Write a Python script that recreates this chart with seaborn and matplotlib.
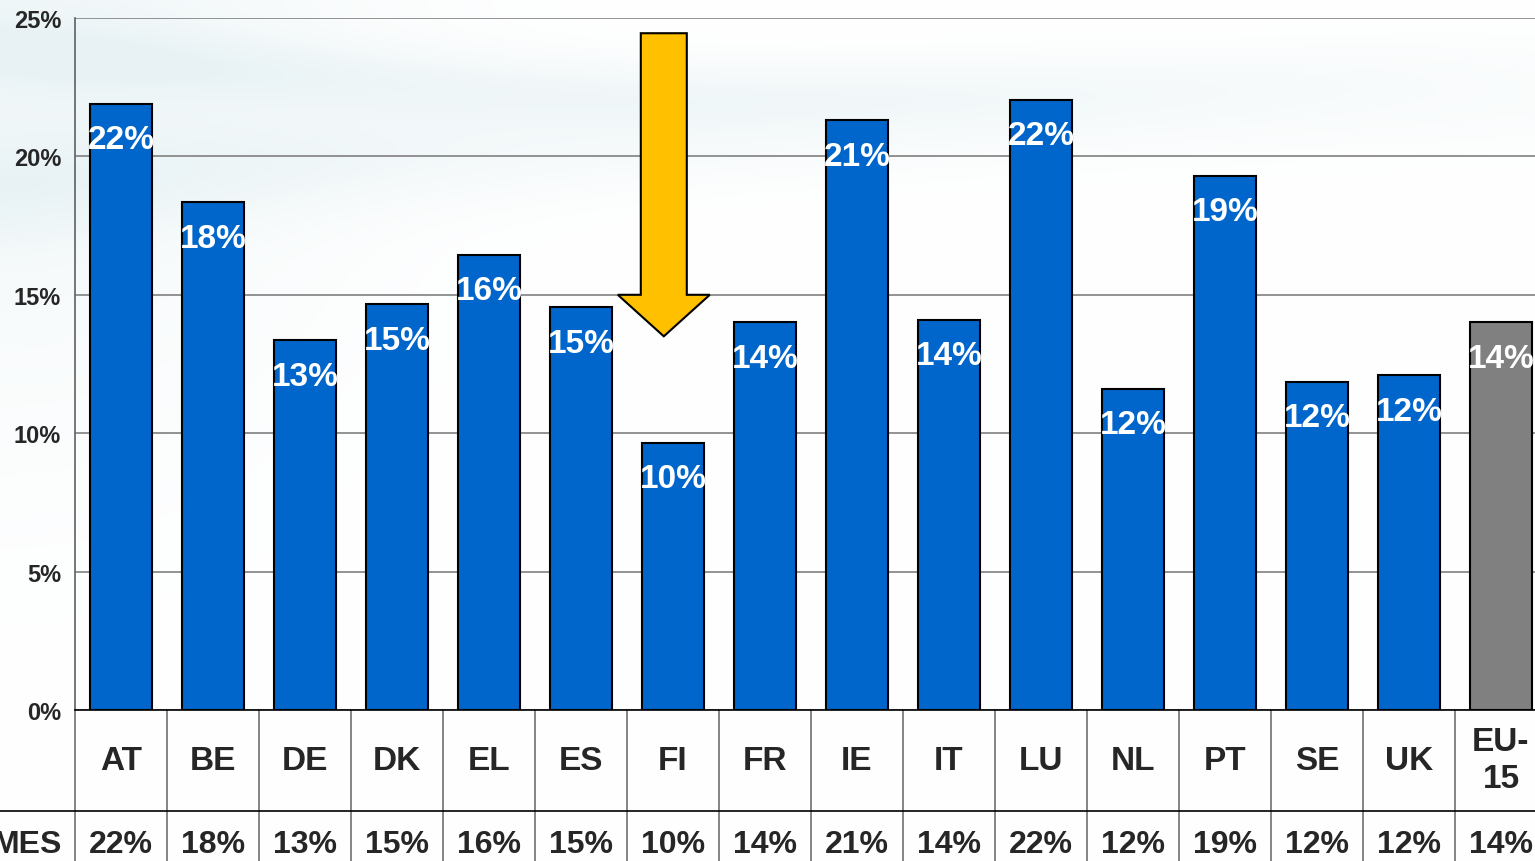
import numpy as np
import matplotlib.pyplot as plt
import matplotlib.transforms as mtransforms
from matplotlib.patches import Polygon
import seaborn as sns
import pandas as pd

countries = ["AT", "BE", "DE", "DK", "EL", "ES", "FI", "FR", "IE", "IT",
             "LU", "NL", "PT", "SE", "UK", "EU-\n15"]
values = [21.9, 18.35, 13.35, 14.65, 16.45, 14.55, 9.65, 14.0, 21.3, 14.1,
          22.05, 11.6, 19.3, 11.85, 12.1, 14.0]
labels = ["22%", "18%", "13%", "15%", "16%", "15%", "10%", "14%", "21%", "14%",
          "22%", "12%", "19%", "12%", "12%", "14%"]
row_label = "MES"
bar_colors = ["#0066CC"] * 15 + ["#808080"]

sns.set_style("white")
plt.rcParams['font.family'] = ['Liberation Sans', 'DejaVu Sans']

W, H = 1535, 862
fig = plt.figure(figsize=(W / 100, H / 100), dpi=100)

# soft background swooshes
bg = fig.add_axes([0, 0, 1, 1], zorder=-10)
yy, xx = np.mgrid[0:1:H * 1j, 0:1:W * 1j]
img = np.ones((H, W, 3))
band1 = np.exp(-((yy - (0.22 - 0.18 * xx + 0.08 * xx ** 2)) / 0.06) ** 2) * (1 - 0.6 * xx)
band2 = np.exp(-((yy - (0.06 + 0.05 * np.sin(3 * xx))) / 0.04) ** 2) * np.clip(1.1 - xx, 0, 1)
corner = np.exp(-(xx ** 2 / 0.05 + yy ** 2 / 0.2))
tint = np.clip(0.5 * band1 + 0.6 * band2 + 0.6 * corner, 0, 1)
img[..., 0] -= 0.09 * tint
img[..., 1] -= 0.05 * tint
img[..., 2] -= 0.04 * tint
bg.imshow(img, aspect="auto", extent=[0, 1, 0, 1])
bg.axis("off")

ax = fig.add_axes([75 / W, 151 / H, (1547 - 75) / W, (711 - 19) / H])
ax.patch.set_alpha(0)

df = pd.DataFrame({"country": countries, "value": values})
sns.barplot(data=df, x="country", y="value", hue="country", palette=bar_colors,
            legend=False, width=0.675, edgecolor="black", linewidth=1.5,
            saturation=1, ax=ax, zorder=3)

ax.set_xlim(-0.5, 15.5)
ax.set_ylim(0, 25)
ax.set_yticks(np.arange(0, 26, 5))
ax.set_yticklabels([f"{t}%" for t in range(0, 26, 5)], fontsize=17, fontweight="bold")
ax.tick_params(axis="y", direction="out", length=8, width=1.2, color="#606060", pad=2)
ax.tick_params(axis="x", length=0, labelbottom=False)
ax.set_xlabel("")
ax.set_ylabel("")
ax.grid(axis="y", color="#808080", linewidth=1.2, zorder=0)
for s in ["top", "right"]:
    ax.spines[s].set_visible(False)
ax.spines["left"].set_color("#606060")
ax.spines["left"].set_linewidth(1.2)
ax.spines["bottom"].set_color("black")
ax.spines["bottom"].set_linewidth(1.2)

for i, (v, lab) in enumerate(zip(values, labels)):
    ax.text(i, v - 1.3, lab, ha="center", va="center", color="white",
            fontsize=24, fontweight="bold", zorder=5)

# arrow over FI
ax.add_patch(Polygon([(5.65, 24.45), (6.15, 24.45), (6.15, 15.0), (6.40, 15.0),
                      (5.90, 13.5), (5.40, 15.0), (5.65, 15.0)],
                     closed=True, facecolor="#FFC000", edgecolor="black",
                     linewidth=1.5, zorder=6))

# data table below the axis
trans = mtransforms.blended_transform_factory(ax.transData, fig.transFigure)
y_top, y_mid = 151 / H, 50 / H
for k in range(17):
    ax.plot([k - 0.5, k - 0.5], [0, y_top], transform=trans, color="#707070",
            linewidth=1.2, clip_on=False)
fig.add_artist(plt.Line2D([0, 1], [y_mid, y_mid], color="black", linewidth=1.2))
for i, (c, lab) in enumerate(zip(countries, labels)):
    ax.text(i, (y_top + y_mid) / 2, c, transform=trans, ha="center", va="center",
            fontsize=24, fontweight="bold", linespacing=1.25, clip_on=False)
    ax.text(i, 17 / H, lab, transform=trans, ha="center", va="center",
            fontsize=23, fontweight="bold", clip_on=False)
fig.text(62 / W, 17 / H, row_label, ha="right", va="center",
         fontsize=23, fontweight="bold")

fig.savefig("out.png", dpi=100)
